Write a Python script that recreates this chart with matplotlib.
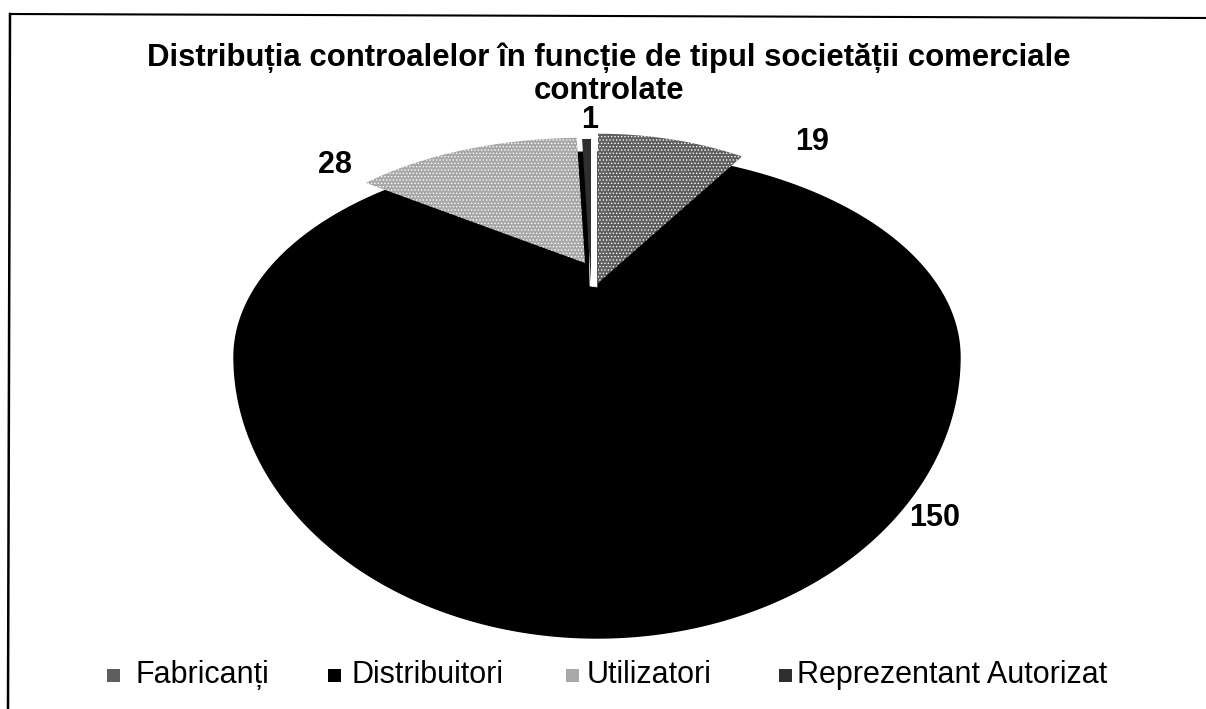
import numpy as np
import matplotlib
matplotlib.use("Agg")
import matplotlib.pyplot as plt
from matplotlib.patches import Polygon, Rectangle

plt.rcParams['font.family'] = ['Liberation Sans', 'DejaVu Sans']
plt.rcParams['hatch.linewidth'] = 0.6

title = "Distribuția controalelor în funcție de tipul societății comerciale\ncontrolate"
categories = ["Fabricanți", "Distribuitori", "Utilizatori", "Reprezentant Autorizat"]
values = [19, 150, 28, 1]
colors = ["#5e5e5e", "#000000", "#a8a8a8", "#2e2e2e"]

# per slice look: apex offset, radius, x stretch
offset_x = [1, 0, -12, -6]
offset_y = [-5, 0, -25, -5]
radius = [0.97, 1.0, 0.79, 0.93]
stretch = [0.85, 1.0, 1.07, 1.0]

label_x = [812, 935, 335, 590]
label_y = [142, 518, 165, 120]
legend_sq = [113, 334, 572, 785]
legend_txt = [135, 351, 587, 797]

# pie geometry in pixels, back is foreshortened
cx, cy = 597, 288
A, B, k = 356, 183, 0.195
oval_y, oval_rx, oval_top, oval_bot = 357, 363, 205, 281


def project(ang, r=1.0):
    # ang in degrees clockwise from the top
    t = np.radians(ang)
    u = r * np.sin(t)
    v = r * np.cos(t)
    w = 1 + k * v
    return A * u / w, -B * v / w


fig = plt.figure(figsize=(12.06, 7.09), dpi=100)
ax = fig.add_axes([0, 0, 1, 1])
ax.set_xlim(0, 1206)
ax.set_ylim(709, 0)
ax.axis("off")

# scanned frame, only left and top made it onto the page
ax.plot([10, 8], [14, 709], color="black", lw=1.8)
ax.plot([10, 1206], [14, 18], color="black", lw=1.5)

total = sum(values)
ends = np.cumsum(values) / total * 360
starts = np.r_[0, ends[:-1]]

# black body is one big oval, the other slices lie on top of it
t = np.linspace(0, 2 * np.pi, 400)
ry = np.where(np.sin(t) > 0, oval_bot, oval_top)
ax.add_patch(Polygon(np.c_[cx + oval_rx * np.cos(t), oval_y + ry * np.sin(t)],
                     fc=colors[1], ec=colors[1], lw=1))

# white strip right of the thin slice
gx, gy = project(np.array([-1.9, 0.0]), 1.0)
strip = [(cx - 7, cy - 2), (cx + gx[0], cy + gy[0]), (cx + gx[1], cy + gy[1]), (cx, cy - 1)]
ax.add_patch(Polygon(strip, fc="white", ec="white", lw=0.5))

for i in [0, 2, 3]:
    a = np.linspace(starts[i], ends[i], 80)
    x, y = project(a, radius[i])
    px = cx + offset_x[i] + np.r_[0, x * stretch[i]]
    py = cy + offset_y[i] + np.r_[0, y]
    hatch = "....." if i != 3 else None
    ax.add_patch(Polygon(np.c_[px, py], fc=colors[i], ec="white" if i != 3 else colors[i],
                         lw=0, hatch=hatch))

ax.text(609, 74, title, ha="center", va="center", fontsize=22.4, fontweight="bold", linespacing=1.15)

for i in range(len(values)):
    ax.text(label_x[i], label_y[i], str(values[i]), ha="center", va="center",
            fontsize=22, fontweight="bold")
    ax.add_patch(Rectangle((legend_sq[i] - 6, 669), 13, 13, fc=colors[i], ec="none"))
    ax.text(legend_txt[i], 675, categories[i], ha="left", va="center", fontsize=22)

fig.savefig("out.png", dpi=100, facecolor="white")
